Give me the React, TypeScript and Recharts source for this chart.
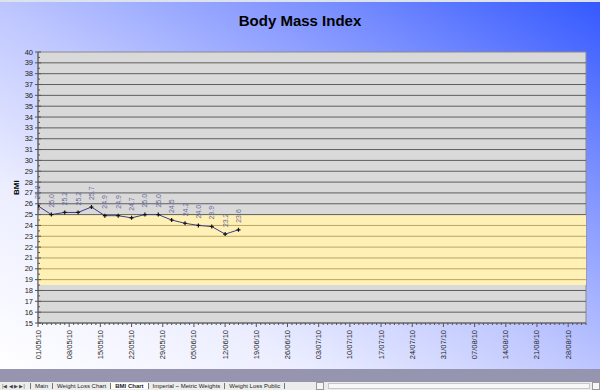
import {Line, LineChart, LabelList, ReferenceArea, ReferenceLine, XAxis, YAxis} from 'recharts';

const readingDates = [
  '01/05/10', '04/05/10', '07/05/10', '10/05/10', '13/05/10', '16/05/10', '19/05/10', '22/05/10',
  '25/05/10', '28/05/10', '31/05/10', '03/06/10', '06/06/10', '09/06/10', '12/06/10', '15/06/10',
];
const bmiValues = [25.8, 25.0, 25.2, 25.2, 25.7, 24.9, 24.9, 24.7, 25.0, 25.0, 24.5, 24.2, 24.0, 23.9, 23.2, 23.6];

const xTickLabels = [
  '01/05/10', '08/05/10', '15/05/10', '22/05/10', '29/05/10', '05/06/10', '12/06/10', '19/06/10', '26/06/10',
  '03/07/10', '10/07/10', '17/07/10', '24/07/10', '31/07/10', '07/08/10', '14/08/10', '21/08/10', '28/08/10',
];
const xRange = ['01/05/10', '01/09/10'];
const yTicks = [15, 16, 17, 18, 19, 20, 21, 22, 23, 24, 25, 26, 27, 28, 29, 30, 31, 32, 33, 34, 35, 36, 37, 38, 39, 40];
const healthyBand = [18.5, 25];

const tabs = ['Main', 'Weight Loss Chart', 'BMI Chart', 'Imperial ~ Metric Weights', 'Weight Loss Public'];

const FONT = '"Liberation Sans", Arial, sans-serif';

// dd/mm/yy -> day number
function toDay(s: string) {
  const [d, m, y] = s.split('/').map(Number);
  return Date.UTC(2000 + y, m - 1, d) / 86400000;
}

const xMin = toDay(xRange[0]);
const xMax = toDay(xRange[1]);
const majorDays = new Map(xTickLabels.map(l => [toDay(l), l]));
const allDays: number[] = [];
for (let d = xMin; d <= xMax; d++) allDays.push(d);

const yHalf: number[] = [];
for (let v = yTicks[0]; v <= yTicks[yTicks.length - 1]; v += 0.5) yHalf.push(v);

const data = readingDates.map((d, i) => ({ day: toDay(d), bmi: bmiValues[i] }));

function XTick(props: any) {
  const { x, y, payload } = props;
  const label = majorDays.get(payload.value);
  if (!label) {
    return <line x1={x} x2={x} y1={y} y2={y + 2} stroke="#555" />;
  }
  return (
    <g>
      <line x1={x} x2={x} y1={y} y2={y + 4} stroke="#555" />
      <text
        x={x}
        y={y + 7}
        transform={`rotate(-90 ${x} ${y + 7})`}
        textAnchor="end"
        dominantBaseline="central"
        fontSize={7.5}
        fontFamily={FONT}
        fill="#222"
      >
        {label}
      </text>
    </g>
  );
}

function YTick(props: any) {
  const { x, y, payload } = props;
  const v = payload.value;
  if (!Number.isInteger(v)) {
    return <line x1={x} x2={x + 2} y1={y} y2={y} stroke="#555" />;
  }
  return (
    <g>
      <line x1={x - 3} x2={x + 3} y1={y} y2={y} stroke="#555" />
      <text x={x - 5} y={y} textAnchor="end" dominantBaseline="central" fontSize={7.5} fontFamily={FONT} fill="#222">
        {v}
      </text>
    </g>
  );
}

function PointLabel(props: any) {
  const { x, y, value } = props;
  const ty = y - 7;
  return (
    <text
      x={x}
      y={ty}
      transform={`rotate(-90 ${x} ${ty})`}
      textAnchor="start"
      dominantBaseline="central"
      fontSize={7}
      fontFamily={FONT}
      fill="#6a6aa0"
    >
      {Number(value).toFixed(1)}
    </text>
  );
}

function PlusDot(props: any) {
  const { cx, cy, index } = props;
  return (
    <path
      key={index}
      d={`M${cx - 2},${cy}H${cx + 2}M${cx},${cy - 2}V${cy + 2}`}
      stroke="#111"
      strokeWidth={1.2}
    />
  );
}

export default function App() {
  return (
    <div style={{ position: 'relative', width: 600, height: 390, overflow: 'hidden', fontFamily: FONT }}>
      <style>{'body{margin:0}'}</style>
      <div
        style={{
          position: 'absolute',
          left: 0,
          top: 0,
          width: 600,
          height: 369,
          background: 'linear-gradient(to top right, #ffffff 0%, #eceeff 25%, #bcc5ff 50%, #7e92ff 75%, #3358ff 100%)',
        }}
      />
      <div style={{ position: 'absolute', left: 0, top: 0, width: 600, height: 2, background: '#dde2ef' }} />
      <div
        style={{
          position: 'absolute',
          top: 12,
          left: 0,
          width: 600,
          textAlign: 'center',
          fontWeight: 'bold',
          fontSize: 15,
          color: '#000',
        }}
      >
        Body Mass Index
      </div>
      <div
        style={{
          position: 'absolute',
          left: 10,
          top: 182,
          width: 14,
          height: 12,
          transform: 'rotate(-90deg)',
          fontWeight: 'bold',
          fontSize: 8,
          lineHeight: '12px',
          textAlign: 'center',
        }}
      >
        BMI
      </div>
      <div style={{ position: 'absolute', left: 0, top: 0 }}>
        <LineChart width={600} height={369} data={data} margin={{ top: 52, right: 14, bottom: 0, left: 18 }}>
          <XAxis
            dataKey="day"
            type="number"
            domain={[xMin, xMax]}
            ticks={allDays}
            interval={0}
            tick={<XTick />}
            tickLine={false}
            tickSize={0}
            tickMargin={0}
            height={46}
            axisLine={{ stroke: '#555' }}
            allowDataOverflow
          />
          <YAxis
            type="number"
            domain={[yTicks[0], yTicks[yTicks.length - 1]]}
            ticks={yHalf}
            interval={0}
            tick={<YTick />}
            tickLine={false}
            tickSize={0}
            tickMargin={0}
            width={20}
            axisLine={{ stroke: '#555' }}
          />
          <ReferenceArea
            x1={xMin}
            x2={xMax}
            y1={yTicks[0]}
            y2={yTicks[yTicks.length - 1]}
            fill="#d9d9d9"
            fillOpacity={1}
            stroke="#8a8a8a"
          />
          <ReferenceArea
            x1={xMin}
            x2={xMax}
            y1={healthyBand[0]}
            y2={healthyBand[1]}
            fill="#fff1b5"
            fillOpacity={1}
            stroke="none"
          />
          {yTicks.slice(1, -1).map(v => (
            <ReferenceLine
              key={v}
              y={v}
              stroke={v > healthyBand[0] && v < healthyBand[1] ? '#b9a463' : '#5e5e5e'}
              strokeWidth={1}
            />
          ))}
          <Line
            type="linear"
            dataKey="bmi"
            stroke="#3c3c8c"
            strokeWidth={1}
            dot={PlusDot}
            activeDot={false}
            isAnimationActive={false}
          >
            <LabelList dataKey="bmi" content={<PointLabel />} />
          </Line>
        </LineChart>
      </div>
      <div style={{ position: 'absolute', left: 0, top: 369, width: 600, height: 13, background: '#9595b0' }} />
      <div
        style={{
          position: 'absolute',
          left: 0,
          top: 382,
          width: 600,
          height: 8,
          background: '#ececec',
          fontSize: 6,
          lineHeight: '9px',
          color: '#222',
          whiteSpace: 'nowrap',
        }}
      >
        <span style={{ position: 'absolute', left: 2, top: 0, fontSize: 5, color: '#444' }}>|◀ ◀ ▶ ▶|</span>
        <span style={{ position: 'absolute', left: 30, top: 0 }}>
          {tabs.map((t, i) => (
            <span
              key={t}
              style={{
                padding: '0 4px',
                borderLeft: '1px solid #777',
                background: i === 2 ? '#fff' : 'transparent',
                fontWeight: i === 2 ? 'bold' : 'normal',
              }}
            >
              {t}
            </span>
          ))}
          <span style={{ borderLeft: '1px solid #777' }} />
        </span>
        <span style={{ position: 'absolute', left: 316, top: 0, width: 8, height: 8, border: '1px solid #999', boxSizing: 'border-box', background: '#f6f6f6' }} />
        <span style={{ position: 'absolute', left: 328, top: 1, width: 262, height: 6, background: '#f8f8f8', border: '1px solid #c8c8c8', boxSizing: 'border-box' }} />
        <span style={{ position: 'absolute', left: 592, top: 0, width: 8, height: 8, border: '1px solid #999', boxSizing: 'border-box', background: '#f6f6f6' }} />
      </div>
    </div>
  );
}
